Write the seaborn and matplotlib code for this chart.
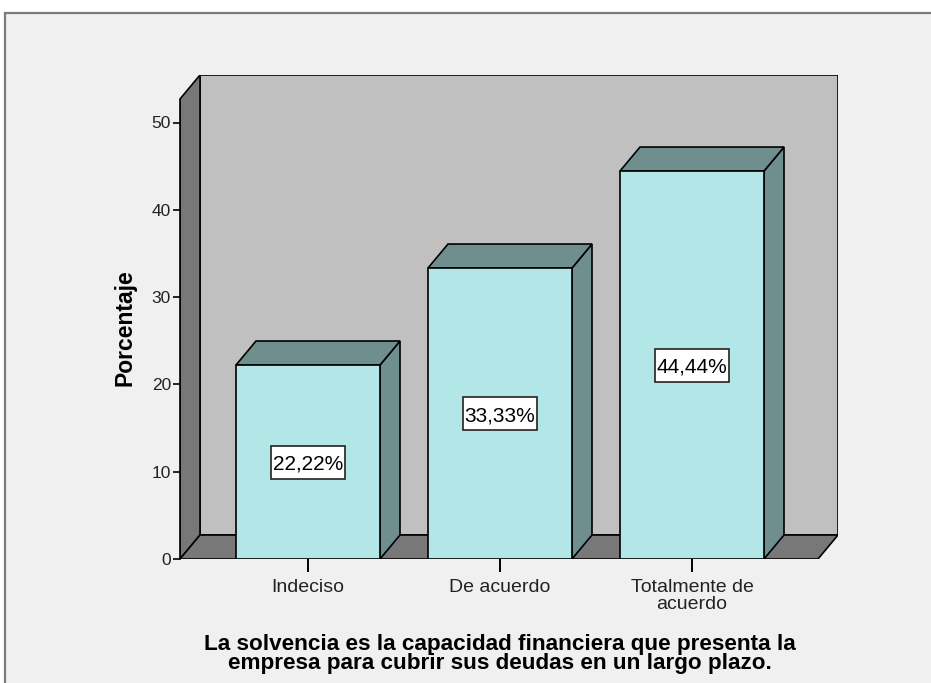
import matplotlib
matplotlib.use("Agg")
import matplotlib.pyplot as plt
from matplotlib.patches import Polygon, Rectangle
import seaborn as sns
import pandas as pd

# Response categories and their percentages
categories = ["Indeciso", "De acuerdo", "Totalmente de\nacuerdo"]
percentages = [22.22, 33.33, 44.44]
y_ticks = [0, 10, 20, 30, 40, 50]
y_label = "Porcentaje"
x_title = ("La solvencia es la capacidad financiera que presenta la\n"
           "empresa para cubrir sus deudas en un largo plazo.")

df = pd.DataFrame({"categoria": categories, "porcentaje": percentages})

sns.set_theme(style="white")
plt.rcParams["font.family"] = ["Liberation Sans", "DejaVu Sans"]

W, H = 931, 683
fig = plt.figure(figsize=(W / 100, H / 100), dpi=100, facecolor="white")

# panel background with grey frame on top and left
fig.add_artist(Rectangle((5 / W, -0.01), 1.0, 1 - 13 / H + 0.01,
                         transform=fig.transFigure, facecolor="#f0f0f0",
                         edgecolor="#7a7a7a", linewidth=1.6, zorder=0))

ax_left, ax_right = 180, 838
ax_bottom, ax_top = 559, 75
ax = fig.add_axes([ax_left / W, 1 - ax_bottom / H,
                   (ax_right - ax_left) / W, (ax_bottom - ax_top) / H])
ax.set_facecolor("none")

# 3D geometry (category units horizontally, percent vertically)
px_per_cat = 192.0
px_per_pct = 87.3 / 10
x_lo = -(308 - 180) / px_per_cat
x_hi_front = (818 - 308) / px_per_cat
dx = 20 / px_per_cat
dy = 24 / px_per_pct
y_top = (ax_bottom - ax_top) / px_per_pct
bar_w = 0.75

wall_dark = "#787878"
wall_light = "#c0c0c0"
bar_face = "#b3e6e6"
bar_shade = "#6f8f8f"
lw = 1.2

# back wall, left wall and floor
ax.add_patch(Polygon([(x_lo + dx, dy), (x_hi_front + dx, dy),
                      (x_hi_front + dx, y_top), (x_lo + dx, y_top)],
                     closed=True, facecolor=wall_light, edgecolor="black",
                     linewidth=lw, zorder=1))
ax.add_patch(Polygon([(x_lo, 0), (x_lo + dx, dy), (x_lo + dx, y_top),
                      (x_lo, y_top - dy)],
                     closed=True, facecolor=wall_dark, edgecolor="black",
                     linewidth=lw, zorder=1))
ax.add_patch(Polygon([(x_lo, 0), (x_hi_front, 0), (x_hi_front + dx, dy),
                      (x_lo + dx, dy)],
                     closed=True, facecolor=wall_dark, edgecolor="black",
                     linewidth=lw, zorder=1))

# front faces of the bars
sns.barplot(data=df, x="categoria", y="porcentaje", ax=ax, color=bar_face,
            saturation=1, width=bar_w, edgecolor="black", linewidth=lw,
            zorder=4)

# value label box size (category units x percent units)
box_w = 74 / px_per_cat
box_h = 33 / px_per_pct

for i, v in enumerate(percentages):
    x0, x1 = i - bar_w / 2, i + bar_w / 2
    # right side and top faces
    ax.add_patch(Polygon([(x1, 0), (x1 + dx, dy), (x1 + dx, v + dy), (x1, v)],
                         closed=True, facecolor=bar_shade, edgecolor="black",
                         linewidth=lw, zorder=3))
    ax.add_patch(Polygon([(x0, v), (x1, v), (x1 + dx, v + dy), (x0 + dx, v + dy)],
                         closed=True, facecolor=bar_shade, edgecolor="black",
                         linewidth=lw, zorder=3))
    ax.add_patch(Rectangle((i - box_w / 2, v / 2 - box_h / 2), box_w, box_h,
                           facecolor="white", edgecolor="#222222",
                           linewidth=1.2, zorder=5))
    label = f"{v:.2f}%".replace(".", ",")
    ax.text(i, v / 2, label, ha="center", va="center_baseline", fontsize=15,
            color="black", zorder=6)

ax.set_xlim(x_lo, x_hi_front + dx)
ax.set_ylim(0, y_top)

for s in ["top", "right", "bottom"]:
    ax.spines[s].set_visible(False)
ax.spines["left"].set_visible(True)
ax.spines["left"].set_color("black")
ax.spines["left"].set_linewidth(lw)
ax.spines["left"].set_bounds(0, y_top - dy)

ax.set_yticks(y_ticks)
ax.set_yticklabels([str(t) for t in y_ticks])
ax.set_xticks(range(len(categories)))
ax.set_xticklabels(categories, linespacing=1.0)
ax.tick_params(axis="y", length=5, width=1.2, color="black", left=True,
               labelsize=12.5, pad=1.5, labelcolor="#222222")
ax.tick_params(axis="x", length=9, width=1.4, color="black", bottom=True,
               direction="out", labelsize=14, pad=5.5, labelcolor="#222222")

ax.set_xlabel("")
ax.set_ylabel(y_label, fontsize=16.5, fontweight="bold", color="black")
ax.yaxis.label.set_va("center")
ax.yaxis.set_label_coords((125 - ax_left) / (ax_right - ax_left),
                          (ax_bottom - 328) / (ax_bottom - ax_top))
ax.grid(False)

# axis title under the category labels, centred on the bars
fig.text(500 / W, 1 - 654 / H, x_title, ha="center", va="center",
         fontsize=16.2, fontweight="bold", color="black", linespacing=0.83)

fig.savefig("out.png", dpi=100, facecolor="white")
